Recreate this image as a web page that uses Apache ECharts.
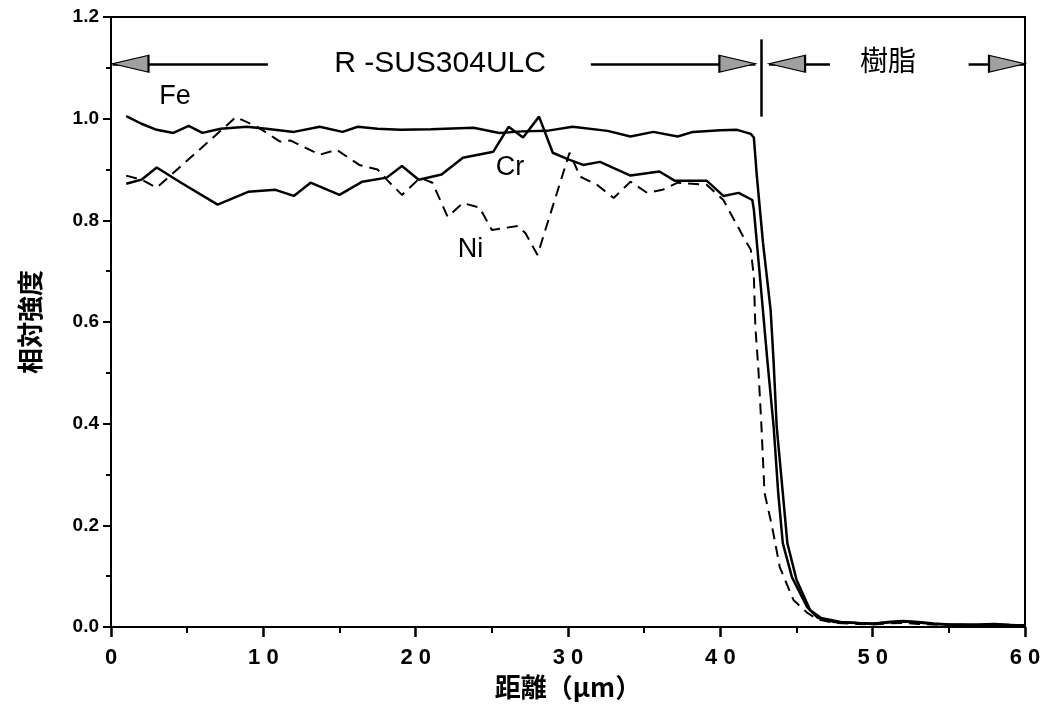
<!DOCTYPE html>
<html>
<head>
<meta charset="utf-8">
<script src="https://cdn.jsdelivr.net/npm/echarts@6/dist/echarts.min.js"></script>
<style>
  html, body { margin: 0; padding: 0; background: #fff; }
  #chart { width: 1053px; height: 713px; }
</style>
</head>
<body>
<div id="chart"></div>
<script>
// Fe
const feX = [1, 2, 3, 4.1, 5.1, 6, 7.2, 8.9, 10.2, 12, 13.7, 15.2, 16.2, 17.5, 19, 21, 23.8, 25.5, 27, 28.6, 30.3, 32.6, 34.1, 35.6, 37.2, 38.2, 40, 41.1, 42, 42.2, 42.4, 42.8, 43.3, 43.5, 43.7, 44.1, 44.4, 45, 45.9, 46.6, 47.9, 49, 50, 51, 52, 53, 54, 55, 56, 57, 58, 59, 60];
const feY = [1.005, 0.99, 0.978, 0.972, 0.986, 0.972, 0.98, 0.984, 0.98, 0.974, 0.984, 0.974, 0.984, 0.98, 0.978, 0.979, 0.982, 0.972, 0.975, 0.976, 0.984, 0.976, 0.965, 0.974, 0.965, 0.974, 0.977, 0.978, 0.97, 0.963, 0.886, 0.756, 0.624, 0.52, 0.394, 0.264, 0.165, 0.093, 0.033, 0.018, 0.01, 0.008, 0.006, 0.01, 0.012, 0.01, 0.007, 0.005, 0.004, 0.005, 0.006, 0.004, 0.003];
// Cr
const crX = [1, 2, 3, 4.6, 7, 9, 10.8, 12, 13.1, 15, 16.5, 18.1, 19.1, 20.2, 21.7, 23.1, 25.1, 26.1, 27.05, 28.1, 29, 30.1, 31, 32.1, 34.1, 36, 37, 39.1, 40.2, 41.2, 42.1, 42.2, 42.6, 43.1, 43.5, 43.8, 44.1, 44.7, 45.7, 46.4, 47.5, 49, 50, 51, 52, 53, 54, 55, 56, 57, 58, 59, 60];
const crY = [0.872, 0.88, 0.904, 0.874, 0.831, 0.856, 0.86, 0.848, 0.874, 0.85, 0.876, 0.884, 0.907, 0.88, 0.89, 0.923, 0.935, 0.984, 0.963, 1.004, 0.933, 0.919, 0.909, 0.915, 0.888, 0.896, 0.878, 0.878, 0.848, 0.854, 0.84, 0.821, 0.689, 0.52, 0.394, 0.264, 0.165, 0.098, 0.039, 0.018, 0.01, 0.008, 0.007, 0.009, 0.011, 0.009, 0.006, 0.005, 0.005, 0.004, 0.005, 0.004, 0.003];
// Ni
const niX = [1, 2, 3, 8.2, 9.6, 11.1, 11.8, 13.7, 14.8, 16.3, 17.5, 18.1, 19.1, 20.3, 21.1, 22.1, 23.1, 24.2, 25, 26.7, 27.2, 28, 30.1, 30.8, 31.9, 33, 34.1, 35.2, 36.2, 37.2, 39.1, 40.2, 41.5, 42, 42.2, 42.3, 42.5, 42.7, 42.9, 43.4, 43.9, 44.8, 45.7, 46.4, 47.5, 49, 50, 51, 52, 53, 54, 55, 56, 57, 58, 59, 60];
const niY = [0.888, 0.88, 0.864, 1.003, 0.984, 0.955, 0.957, 0.929, 0.939, 0.909, 0.9, 0.88, 0.85, 0.884, 0.874, 0.807, 0.834, 0.825, 0.781, 0.789, 0.775, 0.732, 0.933, 0.886, 0.87, 0.844, 0.876, 0.854, 0.86, 0.874, 0.87, 0.84, 0.768, 0.742, 0.689, 0.59, 0.506, 0.394, 0.264, 0.197, 0.118, 0.053, 0.028, 0.015, 0.008, 0.006, 0.005, 0.007, 0.008, 0.006, 0.005, 0.004, 0.004, 0.003, 0.004, 0.003, 0.002];

// region arrows along the top
const arrowY = 1.108;
const arrowTipX = [0.1, 42.3, 43.2, 60];
const arrowDir = ['left', 'right', 'left', 'right'];
const shaftFrom = [0.1, 31.5, 43.2, 56.3];
const shaftTo = [10.3, 42.3, 47.2, 60];
const dividerX = 42.68;
const dividerY = [1.004, 1.156];

const noteText = ['R -SUS304ULC', '樹脂', 'Fe', 'Cr', 'Ni'];
const noteX = [21.6, 51, 4.2, 26.2, 23.6];
const noteY = [1.108, 1.108, 1.043, 0.904, 0.742];
const noteSize = [30, 28, 27, 27, 27];

const zip = (xs, ys) => xs.map((x, i) => [x, ys[i]]);
const font = '"Liberation Sans", "Noto Sans CJK JP", sans-serif';
const cjk = '"Noto Sans CJK JP", "Noto Sans CJK SC", sans-serif';

let chart = echarts.init(document.getElementById('chart'));
chart.setOption({
  animation: false,
  grid: {
    left: 111, right: 28, top: 17, bottom: 86,
    show: true, borderColor: '#000', borderWidth: 2
  },
  xAxis: {
    type: 'value', min: 0, max: 60, interval: 10,
    name: '距離（μm）', nameLocation: 'middle', nameGap: 44,
    nameTextStyle: { color: '#000', fontSize: 26, fontFamily: cjk, fontWeight: 'bold' },
    axisLine: { lineStyle: { color: '#000', width: 2 } },
    axisTick: { inside: false, length: 10, lineStyle: { color: '#000', width: 2.5 } },
    minorTick: { show: true, splitNumber: 2, length: 6, lineStyle: { color: '#000', width: 2 } },
    axisLabel: {
      color: '#000', fontSize: 22, fontFamily: font, fontWeight: 'bold', margin: 20,
      formatter: v => String(v).split('').join(' ')
    },
    splitLine: { show: false }
  },
  yAxis: {
    type: 'value', min: 0, max: 1.2, interval: 0.2,
    name: '相対強度', nameLocation: 'middle', nameGap: 68,
    nameTextStyle: { color: '#000', fontSize: 26, fontFamily: cjk, fontWeight: 'bold' },
    axisLine: { lineStyle: { color: '#000', width: 2 } },
    axisTick: { inside: false, length: 8, lineStyle: { color: '#000', width: 2 } },
    minorTick: { show: true, splitNumber: 2, length: 5, lineStyle: { color: '#000', width: 2 } },
    axisLabel: {
      color: '#000', fontSize: 19, fontFamily: font, fontWeight: 'bold', margin: 12,
      formatter: v => v.toFixed(1)
    },
    splitLine: { show: false }
  },
  series: [
    {
      name: 'Fe', type: 'line', data: zip(feX, feY), showSymbol: false,
      lineStyle: { color: '#000', width: 2.5 }
    },
    {
      name: 'Cr', type: 'line', data: zip(crX, crY), showSymbol: false,
      lineStyle: { color: '#000', width: 2.5 }
    },
    {
      name: 'Ni', type: 'line', data: zip(niX, niY), showSymbol: false,
      lineStyle: { color: '#000', width: 2, type: [11, 7] }
    },
    {
      name: 'regions', type: 'line', data: [], silent: true,
      markLine: {
        silent: true, symbol: 'none', animation: false,
        label: { show: false },
        lineStyle: { color: '#000', width: 2.5, type: 'solid' },
        data: shaftFrom.map((x, i) => [{ coord: [x, arrowY] }, { coord: [shaftTo[i], arrowY] }])
          .concat([[{ coord: [dividerX, dividerY[0]] }, { coord: [dividerX, dividerY[1]] }]])
      }
    },
    {
      name: 'arrowheads', type: 'scatter', silent: true, z: 5,
      data: arrowTipX.map((x, i) => ({
        value: [x, arrowY],
        symbolRotate: arrowDir[i] === 'left' ? 90 : -90,
        symbolOffset: [arrowDir[i] === 'left' ? 18 : -18, 0]
      })),
      symbol: 'triangle', symbolSize: [17, 36],
      itemStyle: { color: '#a0a0a0', borderColor: '#000', borderWidth: 1.5, opacity: 1 }
    },
    {
      name: 'notes', type: 'scatter', silent: true, symbolSize: 0,
      itemStyle: { opacity: 1 },
      data: noteText.map((t, i) => ({
        name: t, value: [noteX[i], noteY[i]],
        label: { fontSize: noteSize[i] }
      })),
      label: {
        show: true, position: 'inside', formatter: p => p.name,
        color: '#000', textBorderWidth: 0, fontFamily: font, fontWeight: 'normal'
      }
    }
  ]
});
</script>
</body>
</html>
